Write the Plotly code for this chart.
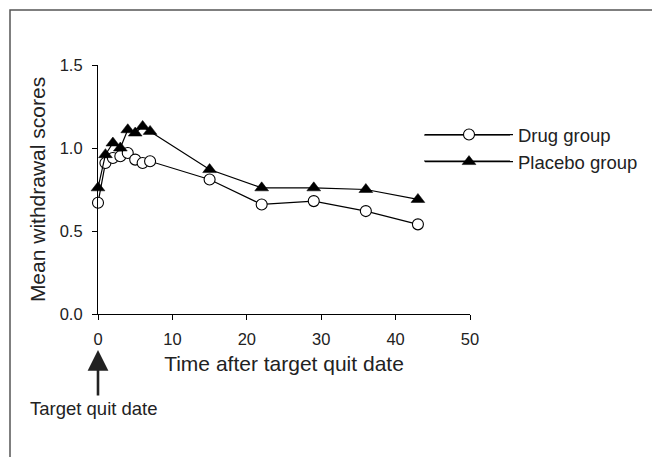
import plotly.graph_objects as go

# Data
days = [0, 1, 2, 3, 4, 5, 6, 7, 15, 22, 29, 36, 43]
drug_scores = [0.67, 0.91, 0.94, 0.95, 0.97, 0.93, 0.91, 0.92, 0.81, 0.66, 0.68, 0.62, 0.54]
placebo_scores = [0.76, 0.96, 1.03, 1.00, 1.11, 1.09, 1.13, 1.10, 0.87, 0.76, 0.76, 0.75, 0.69]
x_ticks = [0, 10, 20, 30, 40, 50]
y_ticks = [0.0, 0.5, 1.0, 1.5]

FONT = "Arial, Liberation Sans, sans-serif"
W, H = 652, 457
L, R, T, B = 98, 182, 65, 143
PW, PH = W - L - R, H - T - B


def px_x(px):
    return (px - L) / PW


def px_y(py):
    return (H - B - py) / PH


fig = go.Figure()
fig.add_trace(go.Scatter(
    x=days, y=drug_scores, name="Drug group", mode="lines+markers",
    line=dict(color="black", width=1.2),
    marker=dict(symbol="circle", size=11, color="white", line=dict(color="black", width=1.1)),
    cliponaxis=False,
))
fig.add_trace(go.Scatter(
    x=days, y=placebo_scores, name="Placebo group", mode="lines+markers",
    line=dict(color="black", width=1.2),
    marker=dict(symbol="triangle-up", size=12, color="black", line=dict(color="black", width=0.5)),
    cliponaxis=False,
))

axis_common = dict(
    showline=True, linecolor="black", linewidth=1.2,
    ticks="outside", ticklen=5, tickwidth=1.2, tickcolor="black",
    showgrid=False, zeroline=False,
    tickfont=dict(family=FONT, size=16.5, color="#222"),
)

fig.update_xaxes(
    range=[0, 50], tickvals=x_ticks, ticktext=[str(v) for v in x_ticks],
    title=dict(text="Time after target quit date", font=dict(family=FONT, size=21, color="#222"), standoff=9),
    ticklabelstandoff=5,
    **axis_common,
)
fig.update_yaxes(
    range=[0, 1.5], tickvals=y_ticks, ticktext=[f"{v:.1f}" for v in y_ticks],
    title=dict(text="Mean withdrawal scores", font=dict(family=FONT, size=21, color="#222"), standoff=8),
    ticklabelstandoff=6,
    **axis_common,
)

legend_rows = [135, 161]
legend_shapes = []
for ry in legend_rows:
    legend_shapes.append(dict(type="line", xref="paper", yref="paper",
                              x0=px_x(424), x1=px_x(510), y0=px_y(ry), y1=px_y(ry),
                              line=dict(color="black", width=1.2), layer="below"))

fig.update_layout(
    width=W, height=H,
    margin=dict(l=L, r=R, t=T, b=B, pad=0, autoexpand=False),
    paper_bgcolor="white", plot_bgcolor="white",
    font=dict(family=FONT, color="#222"),
    showlegend=True,
    legend=dict(
        x=px_x(420), y=px_y(116), xanchor="left", yanchor="top",
        font=dict(family=FONT, size=18.5, color="#222"),
        bgcolor="rgba(0,0,0,0)", itemwidth=88,
    ),
    shapes=[
        dict(type="rect", xref="paper", yref="paper",
             x0=px_x(10), x1=px_x(700), y0=px_y(500), y1=px_y(10),
             line=dict(color="#555", width=1.5), fillcolor="rgba(0,0,0,0)", layer="below"),
    ] + legend_shapes,
    annotations=[
        dict(x=0, xref="x", y=px_y(350), yref="paper", text="", showarrow=True,
             ax=0, ay=47, arrowhead=2, arrowsize=1.6, arrowwidth=2.6, arrowcolor="#222"),
        dict(x=px_x(94), xref="paper", y=px_y(408), yref="paper", text="Target quit date",
             showarrow=False, xanchor="center", yanchor="middle",
             font=dict(family=FONT, size=18.5, color="#222")),
    ],
)

fig.write_html("out.html")
